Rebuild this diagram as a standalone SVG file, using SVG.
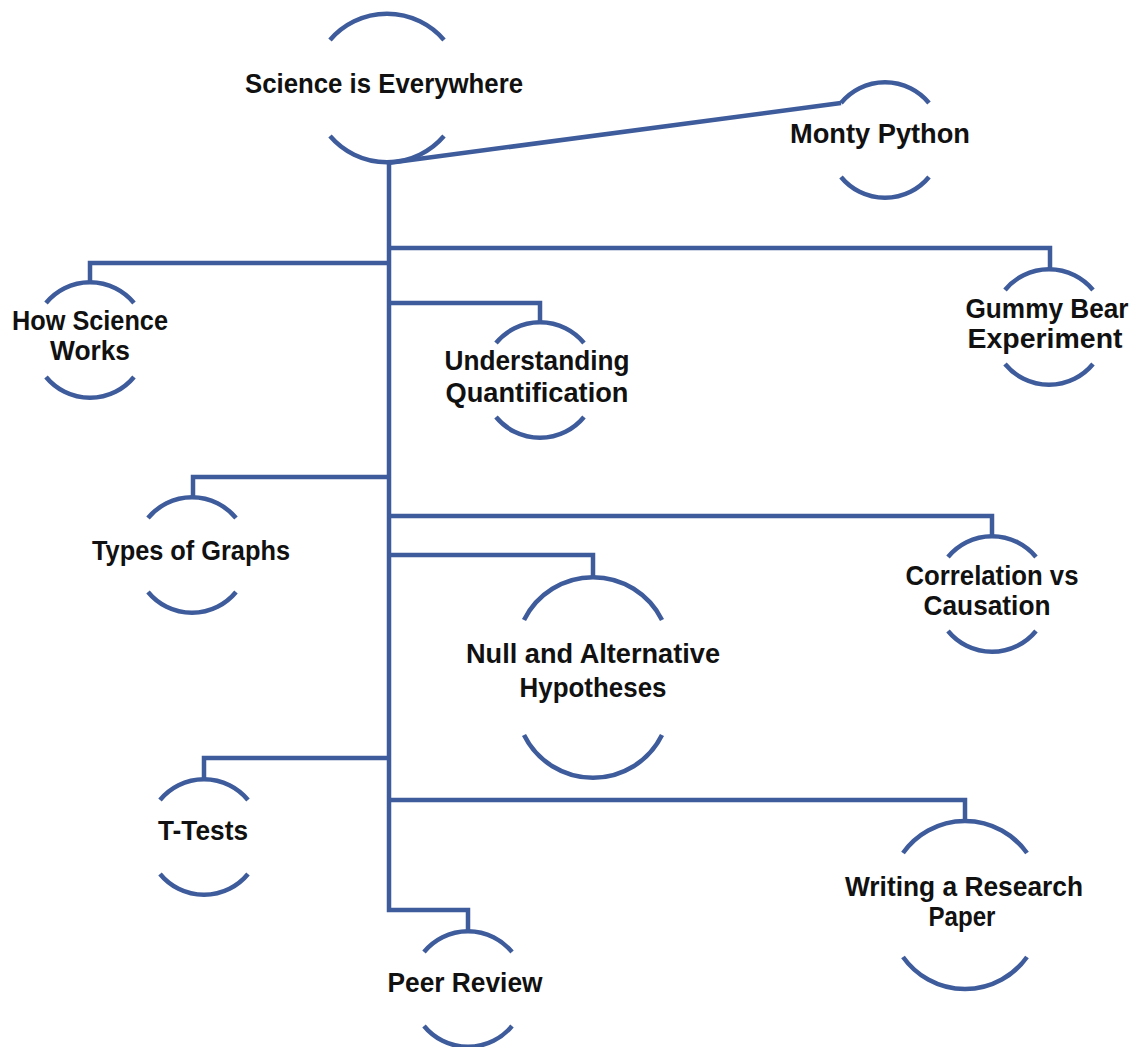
<svg xmlns="http://www.w3.org/2000/svg" width="1135" height="1047" viewBox="0 0 1135 1047">
<style>
.arc{fill:none;stroke:#3e5b9b;stroke-width:4.5;stroke-linecap:butt}
.con{fill:none;stroke:#3e5b9b;stroke-width:4.5;stroke-linejoin:miter}
text{font-family:"Liberation Sans",Arial,sans-serif;font-weight:bold;font-size:27px;fill:#111;text-anchor:middle}
</style>
<rect width="1135" height="1047" fill="#fff"/>
<g id="connectors">
<path class="con" d="M388,163 L841,103"/>
<path class="con" d="M389,161 V910 H468 V932"/>
<path class="con" d="M389,248 H1050 V270"/>
<path class="con" d="M389,263 H90 V283"/>
<path class="con" d="M389,303 H540 V323"/>
<path class="con" d="M389,477 H193 V498"/>
<path class="con" d="M389,516 H992 V537"/>
<path class="con" d="M389,555 H593 V577"/>
<path class="con" d="M389,758 H204 V780"/>
<path class="con" d="M389,800 H965 V822"/>
</g>
<g id="node-science">
<path class="arc" d="M330,40 A75,75 0 0 1 444,40"/>
<path class="arc" d="M330,136 A75,75 0 0 0 444,136"/>
<text x="384" y="93" textLength="278" lengthAdjust="spacingAndGlyphs">Science is Everywhere</text>
</g>
<g id="node-monty">
<path class="arc" d="M841,103 A57,57 0 0 1 929,103"/>
<path class="arc" d="M841,177 A57,57 0 0 0 929,177"/>
<text x="880" y="143" textLength="180" lengthAdjust="spacingAndGlyphs">Monty Python</text>
</g>
<g id="node-how">
<path class="arc" d="M46,303 A57,57 0 0 1 134,303"/>
<path class="arc" d="M46,377 A57,57 0 0 0 134,377"/>
<text x="90" y="330" textLength="156" lengthAdjust="spacingAndGlyphs">How Science</text>
<text x="90" y="360" textLength="80" lengthAdjust="spacingAndGlyphs">Works</text>
</g>
<g id="node-gummy">
<path class="arc" d="M1005,290 A57,57 0 0 1 1093,290"/>
<path class="arc" d="M1005,364 A57,57 0 0 0 1093,364"/>
<text x="1047" y="318" textLength="163" lengthAdjust="spacingAndGlyphs">Gummy Bear</text>
<text x="1045" y="348" textLength="155" lengthAdjust="spacingAndGlyphs">Experiment</text>
</g>
<g id="node-understanding">
<path class="arc" d="M496,343 A57,57 0 0 1 584,343"/>
<path class="arc" d="M496,417 A57,57 0 0 0 584,417"/>
<text x="537" y="370" textLength="185" lengthAdjust="spacingAndGlyphs">Understanding</text>
<text x="537" y="402" textLength="183" lengthAdjust="spacingAndGlyphs">Quantification</text>
</g>
<g id="node-types">
<path class="arc" d="M148,518 A57,57 0 0 1 236,518"/>
<path class="arc" d="M148,592 A57,57 0 0 0 236,592"/>
<text x="191" y="560" textLength="198" lengthAdjust="spacingAndGlyphs">Types of Graphs</text>
</g>
<g id="node-correlation">
<path class="arc" d="M948,557 A57,57 0 0 1 1036,557"/>
<path class="arc" d="M948,631 A57,57 0 0 0 1036,631"/>
<text x="992" y="585" textLength="173" lengthAdjust="spacingAndGlyphs">Correlation vs</text>
<text x="987" y="615" textLength="127" lengthAdjust="spacingAndGlyphs">Causation</text>
</g>
<g id="node-null">
<path class="arc" d="M524,620 A77,77 0 0 1 662,620"/>
<path class="arc" d="M524,735 A77,77 0 0 0 662,735"/>
<text x="593" y="663" textLength="254" lengthAdjust="spacingAndGlyphs">Null and Alternative</text>
<text x="593" y="697" textLength="147" lengthAdjust="spacingAndGlyphs">Hypotheses</text>
</g>
<g id="node-ttests">
<path class="arc" d="M160,800 A57,57 0 0 1 248,800"/>
<path class="arc" d="M160,874 A57,57 0 0 0 248,874"/>
<text x="203" y="840" textLength="90" lengthAdjust="spacingAndGlyphs">T-Tests</text>
</g>
<g id="node-writing">
<path class="arc" d="M903,853 A76,76 0 0 1 1027,853"/>
<path class="arc" d="M903,957 A76,76 0 0 0 1027,957"/>
<text x="964" y="896" textLength="238" lengthAdjust="spacingAndGlyphs">Writing a Research</text>
<text x="962" y="926" textLength="67" lengthAdjust="spacingAndGlyphs">Paper</text>
</g>
<g id="node-peer">
<path class="arc" d="M424,952 A57,57 0 0 1 512,952"/>
<path class="arc" d="M424,1026 A57,57 0 0 0 512,1026"/>
<text x="465" y="992" textLength="155" lengthAdjust="spacingAndGlyphs">Peer Review</text>
</g>
</svg>
